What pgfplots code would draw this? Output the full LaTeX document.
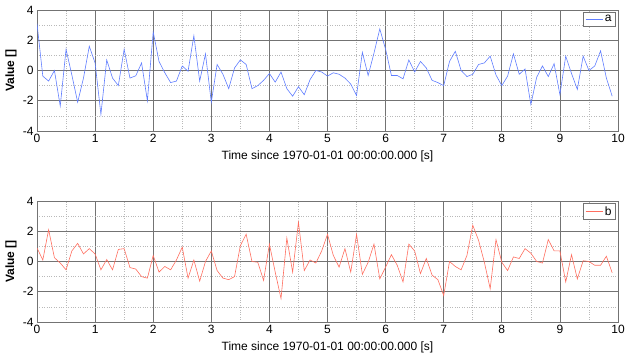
\documentclass[border=0pt]{standalone}
\usepackage{pgfplots}
\pgfplotsset{compat=1.18}
\usepackage{pgfplotstable}
\usepackage{fontspec}
\setmainfont{Liberation Sans}
\definecolor{lineA}{RGB}{95,125,255}
\definecolor{lineB}{RGB}{255,110,95}
\definecolor{majgrid}{RGB}{115,115,115}
\definecolor{mingrid}{RGB}{185,185,185}

\pgfplotstableread{
x y
0.0 3.1
0.1 -0.37
0.2 -0.7
0.3 0.0
0.4 -2.35
0.5 1.4
0.6 -0.3
0.7 -2.1
0.8 -0.5
0.9 1.6
1.0 0.5
1.1 -2.9
1.2 0.7
1.3 -0.5
1.4 -1.0
1.5 1.4
1.6 -0.5
1.7 -0.35
1.8 0.5
1.9 -2.0
2.0 2.55
2.1 0.6
2.2 -0.15
2.3 -0.8
2.4 -0.7
2.5 0.3
2.6 -0.05
2.7 2.3
2.8 -0.7
2.9 1.1
3.0 -2.1
3.1 0.4
3.2 -0.25
3.3 -1.2
3.4 0.17
3.5 0.7
3.6 0.4
3.7 -1.2
3.8 -1.0
3.9 -0.65
4.0 -0.2
4.1 -0.77
4.2 -0.1
4.3 -1.2
4.4 -1.7
4.5 -1.07
4.6 -1.6
4.7 -0.6
4.8 0.0
4.9 -0.1
5.0 -0.37
5.1 -0.15
5.2 -0.25
5.3 -0.5
5.4 -0.9
5.5 -1.65
5.6 1.2
5.7 -0.33
5.8 1.15
5.9 2.75
6.0 1.4
6.1 -0.33
6.2 -0.33
6.3 -0.55
6.4 0.7
6.5 -0.1
6.6 0.6
6.7 0.17
6.8 -0.65
6.9 -0.8
7.0 -1.0
7.1 0.6
7.2 1.27
7.3 0.0
7.4 -0.4
7.5 -0.25
7.6 0.4
7.7 0.5
7.8 0.95
7.9 -0.3
8.0 -1.0
8.1 -0.37
8.2 1.1
8.3 -0.25
8.4 0.1
8.5 -2.25
8.6 -0.45
8.7 0.3
8.8 -0.4
8.9 0.45
9.0 -1.6
9.1 0.95
9.2 -0.2
9.3 -1.25
9.4 0.95
9.5 0.0
9.6 0.3
9.7 1.3
9.8 -0.5
9.9 -1.7
}\dataA

\pgfplotstableread{
x y
0.0 0.9
0.1 0.1
0.2 2.1
0.3 0.25
0.4 -0.1
0.5 -0.55
0.6 0.7
0.7 1.2
0.8 0.5
0.9 0.85
1.0 0.5
1.1 -0.55
1.2 0.13
1.3 -0.55
1.4 0.8
1.5 0.85
1.6 -0.4
1.7 -0.5
1.8 -1.0
1.9 -1.1
2.0 0.4
2.1 -0.7
2.2 -0.33
2.3 -0.55
2.4 0.1
2.5 0.95
2.6 -1.1
2.7 0.1
2.8 -1.3
2.9 0.0
3.0 0.7
3.1 -0.6
3.2 -1.1
3.3 -1.2
3.4 -1.0
3.5 1.05
3.6 1.8
3.7 0.0
3.8 -0.05
3.9 -1.25
4.0 1.15
4.1 -0.7
4.2 -2.45
4.3 1.55
4.4 -0.7
4.5 2.6
4.6 -0.6
4.7 0.1
4.8 -0.1
4.9 0.7
5.0 1.8
5.1 0.4
5.2 -0.37
5.3 0.85
5.4 -0.7
5.5 1.8
5.6 -0.85
5.7 -0.05
5.8 1.15
5.9 -1.15
6.0 -0.37
6.1 0.45
6.2 -0.25
6.3 -1.35
6.4 1.15
6.5 0.7
6.6 -0.8
6.7 0.2
6.8 -0.9
6.9 -1.2
7.0 -2.25
7.1 0.0
7.2 -0.33
7.3 -0.55
7.4 0.4
7.5 2.4
7.6 1.4
7.7 -0.05
7.8 -1.8
7.9 1.45
8.0 -0.05
8.1 -0.6
8.2 0.3
8.3 0.2
8.4 0.85
8.5 0.55
8.6 0.0
8.7 -0.1
8.8 1.45
8.9 0.7
9.0 0.7
9.1 -1.35
9.2 0.45
9.3 -1.15
9.4 0.05
9.5 0.0
9.6 -0.25
9.7 -0.25
9.8 0.35
9.9 -0.75
}\dataB

\pgfplotsset{myaxis/.style={
  scale only axis, width=581pt, height=121pt,
  xmin=0, xmax=10, ymin=-4, ymax=4,
  xtick={0,1,...,10}, ytick={-4,-2,0,2,4},
  minor xtick={0.5,1.5,...,9.5}, minor ytick={-3,-1,1,3},
  grid=both,
  major grid style={majgrid, line width=0.7pt},
  minor grid style={mingrid, dotted, line width=0.6pt},
  axis line style={majgrid, line width=0.8pt},
  major tick length=0pt, minor tick length=0pt,
  /pgf/number format/assume math mode=true,
  tick label style={font=\fontsize{12}{14}\selectfont},
  label style={font=\fontsize{12}{14}\selectfont},
  xlabel={Time since 1970-01-01 00:00:00.000 [s]},
  xlabel style={at={(axis description cs:0.5,0)}, anchor=north, yshift=-16pt},
  ylabel={\bfseries Value []},
  ylabel style={at={(axis description cs:-0.029,0.5)}, anchor=south},
  legend style={at={(1,1)}, anchor=north east, xshift=-2pt, yshift=-2pt,
    font=\fontsize{12}{14}\selectfont, draw=majgrid, line width=0.8pt,
    inner xsep=2pt, inner ysep=1pt},
  legend image code/.code={\draw[#1, line width=0.6pt] (0pt,0pt) -- (17pt,0pt);},
}}

\begin{document}
\begin{tikzpicture}
\useasboundingbox (0,0) rectangle (629pt,-361pt);
\begin{axis}[myaxis, at={(37pt,-10pt)}, anchor=north west]
\addplot[lineA, line width=0.6pt] table[x=x,y=y] {\dataA};
\addlegendentry{a}
\end{axis}
\begin{axis}[myaxis, at={(37pt,-201pt)}, anchor=north west]
\addplot[lineB, line width=0.6pt] table[x=x,y=y] {\dataB};
\addlegendentry{b}
\end{axis}
\end{tikzpicture}
\end{document}
